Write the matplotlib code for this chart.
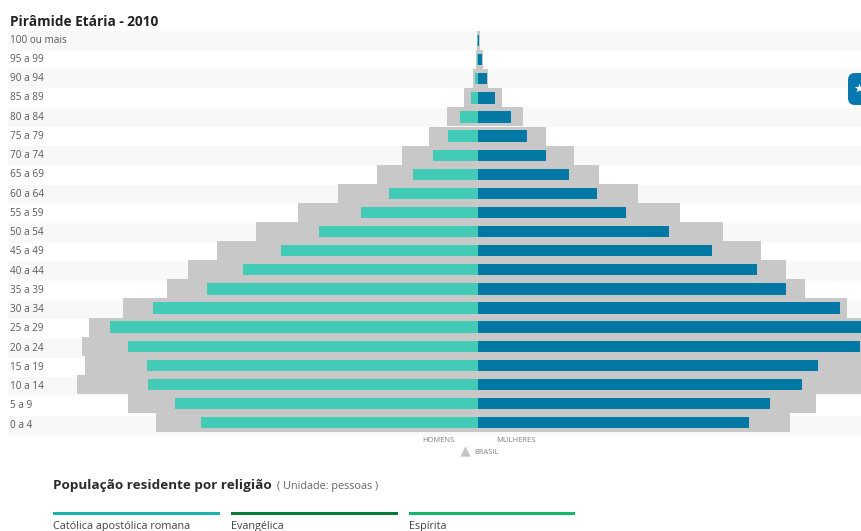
"""Piramide etaria 2010 with Brasil background bars."""
import matplotlib

matplotlib.use("Agg")
import matplotlib.pyplot as plt
from matplotlib.patches import FancyBboxPatch, Rectangle

AGE_LABELS = ["100 ou mais", "95 a 99", "90 a 94", "85 a 89", "80 a 84", "75 a 79",
              "70 a 74", "65 a 69", "60 a 64", "55 a 59", "50 a 54", "45 a 49",
              "40 a 44", "35 a 39", "30 a 34", "25 a 29", "20 a 24", "15 a 19",
              "10 a 14", "5 a 9", "0 a 4"]
# bar lengths, in screen pixels from the centre line
BRASIL_HOMENS = [1, 2, 5, 14, 31, 49, 76, 101, 140, 180, 222, 261, 290, 311, 355, 389, 396, 393, 401, 350, 322]
BRASIL_MULHERES = [2, 5, 10, 24, 45, 68, 96, 121, 160, 202, 245, 283, 308, 327, 369, 392, 392, 390, 390, 338, 312]
HOMENS = [0.5, 1, 3, 7, 18, 30, 45, 65, 89, 117, 159, 197, 235, 271, 325, 368, 350, 331, 330, 303, 277]
MULHERES = [1, 4, 9, 17, 33, 49, 68, 91, 119, 148, 191, 234, 279, 308, 362, 390, 382, 340, 324, 292, 271]
RELIGIOES = ["Católica apostólica romana", "Evangélica", "Espírita"]
RELIGIAO_CORES = ["#17b5ac", "#0a7a36", "#12b76d"]

CENTER = 478
BAR_TOP = 31
BAR_H = 19.1
BAND_TOP = 30.5
BAND_H = 19.25
FONT = "Open Sans"

fig = plt.figure(figsize=(8.62, 5.31), dpi=100)
ax = fig.add_axes([0, 0, 1, 1])
ax.set_xlim(-CENTER, 862 - CENTER)
ax.set_ylim(531, 0)
ax.axis("off")

for i, label in enumerate(AGE_LABELS):
    band_y = BAND_TOP + BAND_H * i
    if i % 2 == 0:
        ax.add_patch(Rectangle((8 - CENTER, band_y), 854, BAND_H, color="#f8f8f8", lw=0, zorder=0))
    ax.text(10 - CENTER, band_y + BAND_H / 2, label, fontsize=7.2, color="#5a5a5a", va="center",
            family=FONT)

ys = [BAR_TOP + BAR_H * (i + 0.5) for i in range(len(AGE_LABELS))]
ax.barh(ys, [-v for v in BRASIL_HOMENS], height=BAR_H, color="#c8c8c8", zorder=1)
ax.barh(ys, BRASIL_MULHERES, height=BAR_H, color="#c8c8c8", zorder=1)
ax.barh(ys, [-v for v in HOMENS], height=11.3, color="#42ccb8", zorder=2)
ax.barh(ys, MULHERES, height=11.3, color="#0278a4", zorder=2)

ax.text(10 - CENTER, 21.5, "Pirâmide Etária - 2010", fontsize=9.8, fontweight="bold",
        color="#222222", va="center", family=FONT)
ax.text(438 - CENTER, 441, "HOMENS", fontsize=5.4, color="#808080", ha="center", va="center", family=FONT)
ax.text(516.5 - CENTER, 441, "MULHERES", fontsize=5.5, color="#808080", ha="center", va="center", family=FONT)
ax.text(474 - CENTER, 452, "BRASIL", fontsize=5.4, color="#808080", va="center", family=FONT)
ax.scatter([465 - CENTER], [451], marker="^", s=55, color="#c4c4c4", lw=0, zorder=3)

ax.text(53 - CENTER, 485, "População residente por religião", fontsize=9.7, fontweight="bold",
        color="#2b2b2b", va="center", family=FONT)
ax.text(277 - CENTER, 486, "( Unidade: pessoas )", fontsize=7.8, color="#666666", va="center",
        family=FONT)

# religion headers, low on the page as in the screenshot
for x0, name, color in zip([53, 231, 409], RELIGIOES, RELIGIAO_CORES):
    ax.add_patch(Rectangle((x0 - CENTER, 511.5), 166.5, 3, color=color, lw=0))
    ax.text(x0 - CENTER, 526, name, fontsize=7.8, color="#444444", va="center", family=FONT)

# floating help button at the right edge
ax.add_patch(FancyBboxPatch((848 - CENTER, 73), 24, 32, boxstyle="round,pad=0,rounding_size=7",
                            color="#0a78b0", lw=0, zorder=4))
ax.scatter([859 - CENTER], [88], marker="*", s=50, color="white", lw=0, zorder=5)

fig.savefig("out.png", dpi=100)
plt.close(fig)
